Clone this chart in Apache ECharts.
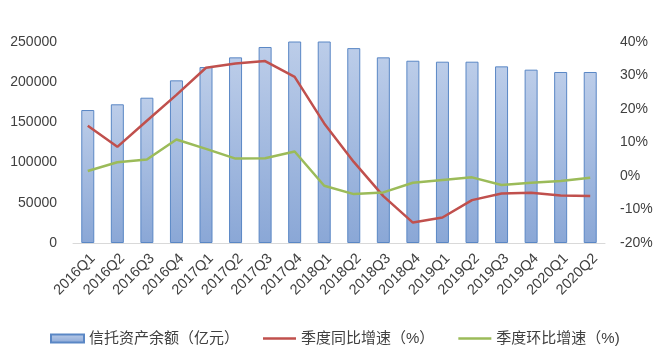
<!DOCTYPE html>
<html>
<head>
<meta charset="utf-8">
<title>信托资产余额</title>
<script src="https://cdn.jsdelivr.net/npm/echarts@6/dist/echarts.min.js"></script>
<style>
  html, body { margin: 0; padding: 0; background: #fff; }
  #chart { width: 654px; height: 353px; }
</style>
</head>
<body>
<div id="chart"></div>
<script>
// 季度
const categories = ['2016Q1', '2016Q2', '2016Q3', '2016Q4', '2017Q1', '2017Q2', '2017Q3', '2017Q4',
  '2018Q1', '2018Q2', '2018Q3', '2018Q4', '2019Q1', '2019Q2', '2019Q3', '2019Q4', '2020Q1', '2020Q2'];
// 信托资产余额（亿元），2017Q4、2018Q1 超出坐标上限被截断
const assetBalance = [165400, 172500, 180700, 202300, 218900, 230900, 243800, 262500,
  256100, 242400, 230900, 226700, 225500, 225500, 219700, 215600, 212700, 212700];
// 季度同比增速（%）
const yoyGrowth = [15.0, 8.7, 16.5, 24.2, 32.3, 33.6, 34.3, 29.6,
  15.7, 4.2, -6.0, -13.9, -12.4, -7.2, -5.2, -5.0, -5.8, -6.0];
// 季度环比增速（%）
const qoqGrowth = [1.5, 4.1, 4.9, 10.9, 8.1, 5.2, 5.3, 7.3,
  -2.9, -5.4, -4.9, -2.0, -1.2, -0.4, -2.7, -2.0, -1.5, -0.5];

const seriesNames = ['信托资产余额（亿元）', '季度同比增速（%）', '季度环比增速（%)'];

const fontFamily = "'Liberation Sans', 'Noto Sans CJK SC', sans-serif";
const textColor = '#404040';
// 图例里的线条图标（只画线，不带圆点）
const lineIcon = 'path://M0,0 L35,0 L35,2.5 L0,2.5 Z';

const chart = echarts.init(document.getElementById('chart'), null, { renderer: 'canvas' });

const option = {
  animation: false,
  backgroundColor: '#fff',
  textStyle: { fontFamily: fontFamily },
  grid: {
    left: 73,
    right: 49,
    top: 42,
    bottom: 110,
    containLabel: false,
    outerBoundsMode: 'none'
  },
  legend: {
    left: 50,
    top: 331,
    padding: 0,
    itemGap: 24,
    itemWidth: 33,
    itemHeight: 8,
    textStyle: { fontSize: 15, color: textColor, fontFamily: fontFamily },
    data: [
      { name: seriesNames[0], icon: 'rect' },
      { name: seriesNames[1], icon: lineIcon },
      { name: seriesNames[2], icon: lineIcon }
    ]
  },
  xAxis: {
    type: 'category',
    data: categories,
    axisTick: { show: false },
    axisLine: { onZero: false, lineStyle: { color: '#d9d9d9', width: 1 } },
    axisLabel: {
      rotate: 45,
      margin: 8,
      interval: 0,
      fontSize: 14.5,
      verticalAlign: 'top',
      color: textColor
    }
  },
  yAxis: [
    {
      type: 'value',
      min: 0,
      max: 250000,
      interval: 50000,
      axisLine: { show: false },
      axisTick: { show: false },
      splitLine: { show: false },
      axisLabel: {
        fontSize: 14,
        color: textColor,
        margin: 16,
        formatter: function (value) {
          return String(value);
        }
      }
    },
    {
      type: 'value',
      min: -20,
      max: 40,
      interval: 10,
      position: 'right',
      axisLine: { show: false },
      axisTick: { show: false },
      splitLine: { show: false },
      axisLabel: { fontSize: 14, color: textColor, margin: 15, formatter: '{value}%' }
    }
  ],
  series: [
    {
      name: seriesNames[0],
      type: 'bar',
      yAxisIndex: 0,
      barWidth: 13,
      clip: true,
      itemStyle: {
        color: new echarts.graphic.LinearGradient(0, 0, 0, 1, [
          { offset: 0, color: '#bccde9' },
          { offset: 1, color: '#8aa7d6' }
        ]),
        borderColor: '#5a87c5',
        borderWidth: 1
      },
      data: assetBalance
    },
    {
      name: seriesNames[1],
      type: 'line',
      yAxisIndex: 1,
      symbol: 'none',
      lineStyle: { color: '#c0504d', width: 2.5 },
      itemStyle: { color: '#c0504d' },
      z: 3,
      data: yoyGrowth
    },
    {
      name: seriesNames[2],
      type: 'line',
      yAxisIndex: 1,
      symbol: 'none',
      lineStyle: { color: '#9bbb59', width: 2.5 },
      itemStyle: { color: '#9bbb59' },
      z: 3,
      data: qoqGrowth
    }
  ]
};

chart.setOption(option);
</script>
</body>
</html>
